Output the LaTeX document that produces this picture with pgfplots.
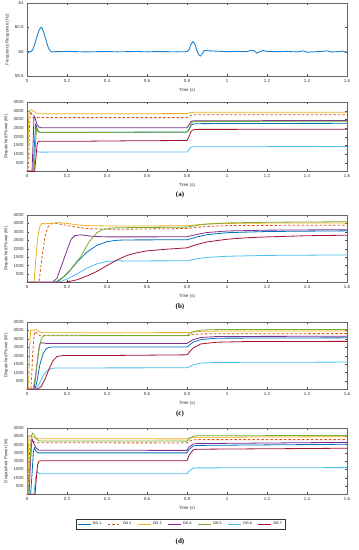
\documentclass[border=0pt]{standalone}
\usepackage{fontspec}
\setmainfont{Liberation Sans}
\newfontfamily\capfont{Liberation Serif}
\usepackage{pgfplots}
\pgfplotsset{compat=1.18}
\definecolor{c1}{rgb}{0,0.447,0.741}
\definecolor{c2}{rgb}{0.85,0.325,0.098}
\definecolor{c3}{rgb}{0.929,0.694,0.125}
\definecolor{c4}{rgb}{0.494,0.184,0.556}
\definecolor{c5}{rgb}{0.466,0.674,0.188}
\definecolor{c6}{rgb}{0.301,0.745,0.933}
\definecolor{c7}{rgb}{0.635,0.078,0.184}
\definecolor{fr}{rgb}{0.1,0.5,0.82}
\pgfplotsset{
  myax/.style={scale only axis, width=320pt, xmin=0, xmax=1.6,
    xtick={0,0.2,0.4,0.6,0.8,1,1.2,1.4,1.6},
    tick label style={font=\fontsize{4.4}{4.4}\selectfont, text=black!80},
    label style={font=\fontsize{4.4}{4.4}\selectfont, text=black!80},
    /pgf/number format/assume math mode=true,
    axis line style={black!60, line width=0.4pt},
    major tick length=2pt, tick style={black!70, line width=0.3pt},
    xlabel={Time (s)}, xticklabel style={yshift=-0.3pt},
    xlabel style={yshift=1.5pt}, ylabel style={yshift=-1.5pt},
    every axis plot/.append style={line width=0.8pt}},
  pw/.style={myax, anchor=south west, ymin=20, ymax=4000, ytick={500,1000,...,4000},
    ylabel={Dispatched Power (W)}, scaled y ticks=false,
    yticklabel style={/pgf/number format/1000 sep={}}},
  g1/.style={c1}, g2/.style={c2, dash pattern=on 2.5pt off 2pt}, g3/.style={c3},
  g4/.style={c4}, g5/.style={c5}, g6/.style={c6}, g7/.style={c7}
}
\begin{document}
\begin{tikzpicture}
\useasboundingbox (0,0) rectangle (359pt,-550pt);
% ---------- frequency
\begin{axis}[myax, anchor=south west, at={(27pt,-76pt)}, height=73pt,
  ymin=59.5, ymax=61, ytick={59.5,60,60.5,61}, ylabel={Frequency Response (Hz)}]
\addplot[fr, line width=0.9pt] coordinates {(0,60)(0.02,60)(0.03,60.05)(0.04,60.17)(0.05,60.31)(0.06,60.44)(0.07,60.5)(0.075,60.49)(0.085,60.38)(0.095,60.24)(0.105,60.1)(0.115,60.02)(0.125,59.99)(0.14,60)(0.2,60.005)(0.25,60)(0.3,59.995)(0.35,60)(0.4,60.003)(0.45,59.997)(0.5,60)(0.55,60.004)(0.6,59.996)(0.65,60.003)(0.7,60)(0.75,59.997)(0.8,60)(0.81,60.04)(0.82,60.15)(0.83,60.21)(0.84,60.15)(0.85,60.02)(0.86,59.93)(0.866,59.91)(0.875,59.95)(0.885,60.02)(0.9,60.02)(0.95,60.01)(1.0,60.0)(1.05,60.005)(1.1,60.0)(1.12,60.03)(1.135,60.02)(1.15,59.97)(1.165,60.0)(1.18,60.025)(1.2,60.005)(1.25,60.0)(1.3,60.005)(1.35,59.995)(1.38,60.015)(1.4,59.99)(1.45,60.0)(1.5,60.015)(1.52,59.995)(1.55,60.0)(1.58,60.01)(1.6,59.99)};
\end{axis}
% ---------- (a)
\begin{axis}[pw, at={(27pt,-171pt)}, height=69pt]
\addplot[g1] coordinates {(0,0)(0.03,0)(0.037,1500)(0.043,2700)(0.048,2600)(0.055,2300)(0.065,2250)(0.2,2250)(0.5,2260)(0.8,2270)(0.81,2400)(0.82,2650)(0.83,2720)(0.85,2750)(1.0,2760)(1.6,2770)};
\addplot[g2] coordinates {(0,0)(0.008,0)(0.012,2500)(0.016,3300)(0.02,3450)(0.025,3250)(0.03,3100)(0.8,3100)(0.81,3180)(0.83,3260)(1.6,3270)};
\addplot[g3] coordinates {(0,0)(0.003,0)(0.008,3000)(0.012,3500)(0.02,3550)(0.03,3500)(0.045,3380)(0.06,3320)(0.8,3330)(0.81,3370)(0.83,3405)(1.6,3410)};
\addplot[g4] coordinates {(0,0)(0.025,0)(0.03,1500)(0.035,3200)(0.04,3100)(0.05,2700)(0.06,2550)(0.07,2520)(0.8,2520)(0.81,2700)(0.82,2870)(0.83,2920)(1.6,2930)};
\addplot[g5] coordinates {(0,0)(0.035,0)(0.042,1500)(0.048,2500)(0.053,2400)(0.06,2280)(0.07,2240)(0.8,2260)(0.81,2450)(0.82,2750)(0.83,2860)(0.85,2880)(1.6,2890)};
\addplot[g6] coordinates {(0,0)(0.03,0)(0.035,800)(0.04,1250)(0.045,1200)(0.055,1120)(0.07,1110)(0.8,1120)(0.81,1250)(0.82,1380)(0.83,1420)(1.6,1430)};
\addplot[g7] coordinates {(0,0)(0.038,0)(0.045,800)(0.05,1500)(0.055,1700)(0.065,1740)(0.3,1740)(0.5,1760)(0.8,1780)(0.81,2000)(0.82,2300)(0.83,2400)(0.85,2420)(1.6,2430)};
\end{axis}
\node[font=\capfont\bfseries\fontsize{7}{7}\selectfont] at (180pt,-195pt) {(a)};
% ---------- (b)
\begin{axis}[pw, at={(27pt,-282pt)}, height=67pt]
\addplot[g1] coordinates {(0,0)(0.15,0)(0.2,500)(0.25,1200)(0.3,1800)(0.35,2200)(0.4,2420)(0.45,2500)(0.5,2520)(0.8,2530)(0.85,2700)(0.9,2830)(1.0,2950)(1.2,3020)(1.6,3060)};
\addplot[g2] coordinates {(0,0)(0.06,0)(0.075,1500)(0.09,2700)(0.105,3300)(0.12,3480)(0.14,3510)(0.17,3450)(0.22,3330)(0.3,3200)(0.4,3150)(0.6,3170)(0.8,3200)(0.85,3260)(0.9,3320)(1.0,3370)(1.2,3385)(1.6,3390)};
\addplot[g3] coordinates {(0,0)(0.035,0)(0.045,1500)(0.055,2800)(0.065,3350)(0.075,3500)(0.09,3480)(0.12,3500)(0.16,3550)(0.2,3500)(0.25,3420)(0.3,3370)(0.4,3350)(0.6,3350)(0.8,3360)(0.85,3420)(0.9,3470)(1.0,3500)(1.2,3520)(1.6,3530)};
\addplot[g4] coordinates {(0,0)(0.128,0)(0.15,250)(0.17,900)(0.2,1900)(0.22,2550)(0.24,2780)(0.27,2820)(0.32,2740)(0.4,2700)(0.6,2700)(0.8,2710)(0.85,2850)(0.9,2960)(1.0,3050)(1.2,3100)(1.6,3130)};
\addplot[g5] coordinates {(0,0)(0.14,0)(0.18,300)(0.22,800)(0.27,1550)(0.31,2400)(0.35,2950)(0.38,3150)(0.43,3230)(0.5,3250)(0.8,3280)(0.85,3380)(0.9,3460)(1.0,3530)(1.2,3570)(1.6,3600)};
\addplot[g6] coordinates {(0,0)(0.16,0)(0.2,200)(0.25,500)(0.3,850)(0.35,1100)(0.4,1240)(0.45,1280)(0.5,1270)(0.8,1280)(0.85,1400)(0.9,1480)(1.0,1550)(1.2,1600)(1.6,1630)};
\addplot[g7] coordinates {(0,0)(0.19,0)(0.25,150)(0.3,380)(0.35,650)(0.4,1000)(0.45,1330)(0.5,1600)(0.55,1760)(0.6,1870)(0.7,1970)(0.8,2050)(0.85,2250)(0.9,2400)(1.0,2560)(1.1,2650)(1.2,2700)(1.4,2770)(1.6,2800)};
\end{axis}
\node[font=\capfont\bfseries\fontsize{7}{7}\selectfont] at (180pt,-307pt) {(b)};
% ---------- (c)
\begin{axis}[pw, at={(27pt,-389pt)}, height=67pt]
\addplot[g1] coordinates {(0,0)(0.04,0)(0.05,500)(0.065,1500)(0.08,2100)(0.095,2400)(0.11,2500)(0.13,2520)(0.8,2520)(0.83,2800)(0.87,2960)(0.95,3040)(1.6,3060)};
\addplot[g2] coordinates {(0,0)(0.02,0)(0.028,2000)(0.035,3200)(0.042,3450)(0.052,3300)(0.065,3180)(0.8,3180)(0.83,3250)(0.87,3290)(0.95,3305)(1.6,3310)};
\addplot[g3] coordinates {(0,0)(0.008,0)(0.013,2500)(0.018,3500)(0.025,3520)(0.035,3500)(0.045,3580)(0.055,3500)(0.065,3400)(0.08,3360)(0.8,3370)(0.83,3410)(0.87,3445)(0.95,3460)(1.6,3465)};
\addplot[g4] coordinates {(0,0)(0.035,0)(0.045,900)(0.055,2000)(0.062,2600)(0.068,2760)(0.08,2760)(0.1,2720)(0.8,2720)(0.83,2950)(0.87,3080)(0.95,3140)(1.6,3155)};
\addplot[g5] coordinates {(0,0)(0.03,0)(0.04,600)(0.05,1500)(0.06,2400)(0.07,2950)(0.08,3150)(0.09,3210)(0.8,3200)(0.83,3420)(0.87,3520)(0.95,3550)(1.6,3560)};
\addplot[g6] coordinates {(0,0)(0.045,0)(0.06,300)(0.08,800)(0.1,1100)(0.12,1230)(0.14,1270)(0.8,1280)(0.83,1450)(0.87,1560)(0.95,1600)(1.6,1620)};
\addplot[g7] coordinates {(0,0)(0.05,0)(0.07,150)(0.09,600)(0.11,1200)(0.13,1700)(0.15,1950)(0.18,2010)(0.4,2010)(0.8,2050)(0.83,2450)(0.87,2700)(0.95,2800)(1.1,2840)(1.6,2850)};
\end{axis}
\node[font=\capfont\bfseries\fontsize{7}{7}\selectfont] at (180pt,-414pt) {(c)};
% ---------- (d)
\begin{axis}[pw, at={(27pt,-494pt)}, height=66pt,
  legend columns=7,
  legend style={at={(0.48,-0.455)}, anchor=center, draw=black!80, line width=0.5pt,
    font=\fontsize{3.6}{3.8}\selectfont, inner sep=0.8pt,
    /tikz/every even column/.append style={column sep=4pt}},
  legend image code/.code={\draw[#1, line width=0.7pt] (0pt,0pt) -- (13pt,0pt);}]
\addplot[g1] coordinates {(0,0)(0.018,0)(0.025,1200)(0.032,2600)(0.037,2800)(0.045,2600)(0.055,2500)(0.8,2500)(0.81,2700)(0.83,2910)(0.85,2950)(1.6,3020)};
\addplot[g2] coordinates {(0,0)(0.005,0)(0.01,1800)(0.015,3000)(0.02,3300)(0.03,3200)(0.045,3110)(0.8,3100)(0.81,3200)(0.83,3290)(0.85,3300)(1.6,3300)};
\addplot[g3] coordinates {(0,0)(0.003,0)(0.007,2500)(0.01,3500)(0.015,3560)(0.025,3500)(0.04,3400)(0.06,3350)(0.8,3345)(0.81,3390)(0.83,3430)(0.85,3440)(1.6,3475)};
\addplot[g4] coordinates {(0,0)(0.01,0)(0.017,1800)(0.023,3100)(0.027,3300)(0.033,3100)(0.045,2800)(0.06,2660)(0.8,2650)(0.81,2850)(0.83,3030)(0.85,3060)(1.6,3135)};
\addplot[g5] coordinates {(0,0)(0.008,0)(0.015,2000)(0.022,3500)(0.027,3700)(0.035,3600)(0.045,3350)(0.06,3220)(0.8,3210)(0.81,3350)(0.83,3500)(0.85,3530)(1.6,3550)};
\addplot[g6] coordinates {(0,0)(0.035,0)(0.042,900)(0.048,1380)(0.055,1300)(0.065,1240)(0.8,1240)(0.81,1400)(0.83,1570)(0.85,1595)(1.6,1612)};
\addplot[g7] coordinates {(0,0)(0.04,0)(0.047,1000)(0.053,1800)(0.06,2000)(0.07,2020)(0.8,2030)(0.81,2350)(0.83,2680)(0.85,2720)(1.6,2780)};
\legend{DG 1,DG 2,DG 3,DG 4,DG 5,DG 6,DG 7}
\end{axis}
\node[font=\capfont\bfseries\fontsize{7}{7}\selectfont] at (180pt,-542pt) {(d)};
\end{tikzpicture}
\end{document}
